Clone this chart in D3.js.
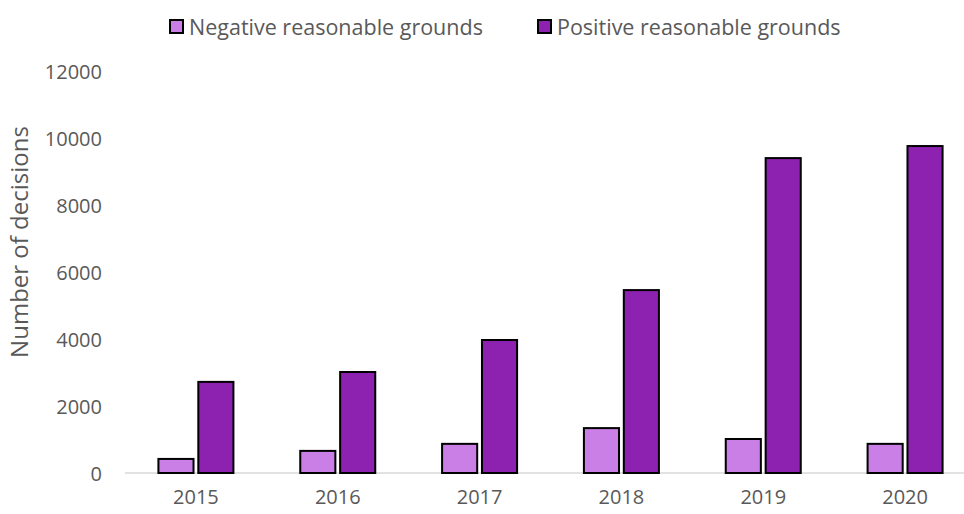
<!DOCTYPE html>
<html><head><meta charset="utf-8">
<script src="https://cdn.jsdelivr.net/npm/d3@7"></script>
<style>body{margin:0;background:#fff}svg{display:block}</style>
</head><body>
<svg id="chart" width="964" height="514"></svg>
<script>
const categories = ["2015","2016","2017","2018","2019","2020"];
const seriesNames = ["Negative reasonable grounds","Positive reasonable grounds"];
const negativeValues = [420, 660, 870, 1340, 1015, 870];
const positiveValues = [2720, 3015, 3970, 5460, 9400, 9760];
const yTicks = [0,2000,4000,6000,8000,10000,12000];
const colors = ["#C97FE6","#8D22B1"];

const svg = d3.select("#chart");
const font = "'Open Sans', sans-serif";
const textColor = "#595959";
const margin = {left:125, right:-12, top:71, bottom:41};
const W = 964, H = 514;

const x = d3.scaleBand().domain(categories).range([margin.left, W - margin.right]);
const xs = d3.scaleBand().domain([0,1]).range([0, 75]).paddingInner(0.12);
const y = d3.scaleLinear().domain([0,12000]).range([473, 71]);

// axis line
svg.append("line").attr("x1", margin.left).attr("x2", W).attr("y1", y(0)).attr("y2", y(0))
  .attr("stroke", "#d9d9d9").attr("stroke-width", 1.5);

// y tick labels
const yAxis = d3.axisLeft(y).tickValues(yTicks).tickFormat(d3.format("d")).tickSize(0).tickPadding(0);
const gy = svg.append("g").attr("transform", "translate(102,0)").call(yAxis);
gy.select(".domain").remove();
gy.selectAll("text").attr("font-family", font).attr("font-size", 20).attr("fill", textColor).attr("dy","0.35em");

// x labels
const xAxis = d3.axisBottom(x).tickSize(0).tickPadding(0);
const gx = svg.append("g").attr("transform", `translate(0,${y(0)+17})`).call(xAxis);
gx.select(".domain").remove();
gx.selectAll("text").attr("font-family", font).attr("font-size", 20).attr("fill", textColor);

// bars
const data = categories.map((c,i)=>({c, vals:[negativeValues[i], positiveValues[i]]}));
const groups = svg.append("g").selectAll("g").data(data).join("g")
  .attr("transform", d => `translate(${x(d.c) + x.bandwidth()/2 - 37.5},0)`);
groups.selectAll("rect").data(d => d.vals.map((v,k)=>({v,k}))).join("rect")
  .attr("x", d => xs(d.k)).attr("width", xs.bandwidth())
  .attr("y", d => y(d.v)).attr("height", d => y(0) - y(d.v))
  .attr("fill", d => colors[d.k]).attr("stroke", "#000").attr("stroke-width", 2);

// y title
svg.append("text").attr("transform", "translate(28,242) rotate(-90)")
  .attr("text-anchor","middle").attr("font-family", font).attr("font-size", 24)
  .attr("fill", textColor).text("Number of decisions");

// legend
const legX = [170, 538];
const leg = svg.append("g").selectAll("g").data(seriesNames).join("g")
  .attr("transform", (d,i)=>`translate(${legX[i]},20)`);
leg.append("rect").attr("width", 13).attr("height", 13).attr("fill", (d,i)=>colors[i])
  .attr("stroke","#000").attr("stroke-width",2);
leg.append("text").attr("x", 19).attr("y", 7).attr("dy","0.35em")
  .attr("font-family", font).attr("font-size", 21.5).attr("fill", textColor).text(d=>d);
</script>
</body></html>
